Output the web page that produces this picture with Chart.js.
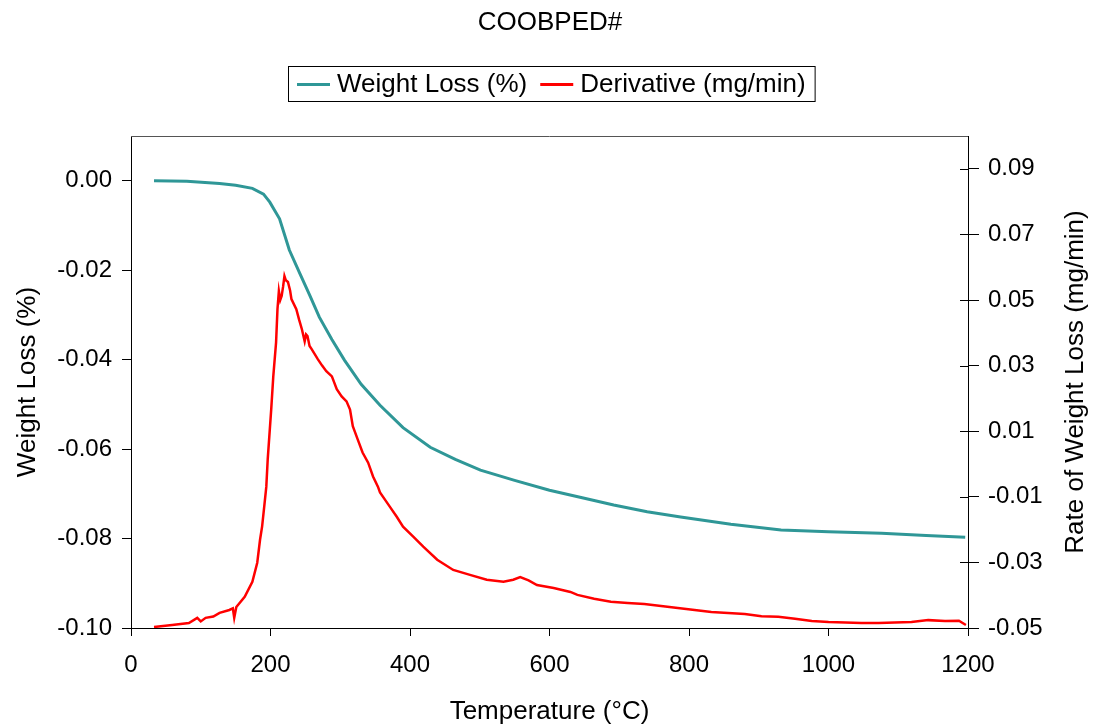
<!DOCTYPE html>
<html>
<head>
<meta charset="utf-8">
<title>COOBPED#</title>
<script src="https://cdn.jsdelivr.net/npm/chart.js@4/dist/chart.umd.min.js"></script>
<style>
  html, body { margin: 0; padding: 0; background: #fff; }
  canvas { display: block; }
</style>
</head>
<body>
<canvas id="chart" width="1096" height="727"></canvas>
<script>
// weight loss curve (left axis)
const tempWL = [33, 80, 127, 150, 174, 190, 199, 213, 227, 242, 256, 270, 288, 306, 330, 357, 390, 429, 465, 501, 550, 600, 650, 692, 740, 788, 860, 932, 1000, 1076, 1140, 1196];
const weightLoss = [0.0000, -0.0001, -0.0006, -0.0010, -0.0017, -0.0030, -0.0048, -0.0085, -0.0155, -0.0207, -0.0255, -0.0305, -0.0355, -0.0401, -0.0455, -0.0502, -0.0552, -0.0596, -0.0623, -0.0647, -0.0670, -0.0692, -0.0710, -0.0725, -0.0740, -0.0752, -0.0768, -0.0781, -0.0785, -0.0788, -0.0793, -0.0797];

// derivative curve (right axis)
const tempDer = [33, 59, 83, 95, 100, 107, 118, 127, 141, 146, 148, 151, 163, 174, 181, 185, 188, 191, 194, 196, 201, 204, 208, 210, 212, 214, 216, 218, 220, 222, 225, 228, 230, 237, 241, 245, 249, 251, 253, 256, 259, 268, 274, 280, 288, 295, 302, 309, 314, 318, 325, 332, 340, 347, 354, 357, 371, 381, 390, 405, 419, 439, 462, 486, 510, 534, 548, 558, 570, 582, 606, 630, 640, 664, 688, 712, 736, 760, 784, 808, 832, 856, 880, 904, 928, 952, 976, 1000, 1024, 1047, 1072, 1095, 1119, 1143, 1167, 1187, 1197];
const derivative = [-0.0497, -0.0491, -0.0485, -0.0469, -0.0480, -0.0469, -0.0465, -0.0454, -0.0445, -0.0440, -0.0469, -0.0436, -0.0405, -0.0359, -0.0301, -0.0231, -0.0190, -0.0130, -0.0069, 0.0014, 0.0166, 0.0267, 0.0371, 0.0472, 0.0527, 0.0500, 0.0512, 0.0540, 0.0573, 0.0560, 0.0555, 0.0530, 0.0503, 0.0472, 0.0440, 0.0411, 0.0374, 0.0395, 0.0390, 0.0360, 0.0350, 0.0319, 0.0300, 0.0283, 0.0267, 0.0228, 0.0206, 0.0191, 0.0166, 0.0115, 0.0075, 0.0035, 0.0004, -0.0038, -0.0069, -0.0087, -0.0130, -0.0161, -0.0191, -0.0222, -0.0252, -0.0292, -0.0323, -0.0338, -0.0353, -0.0359, -0.0353, -0.0345, -0.0355, -0.0369, -0.0378, -0.0390, -0.0399, -0.0411, -0.0420, -0.0424, -0.0427, -0.0433, -0.0439, -0.0445, -0.0451, -0.0454, -0.0457, -0.0464, -0.0466, -0.0472, -0.0479, -0.0482, -0.0483, -0.0485, -0.0485, -0.0483, -0.0482, -0.0476, -0.0479, -0.0478, -0.0491];

const xTicks = [0, 200, 400, 600, 800, 1000, 1200];
const leftTicks = [0.00, -0.02, -0.04, -0.06, -0.08, -0.10];
const rightTicks = [0.09, 0.07, 0.05, 0.03, 0.01, -0.01, -0.03, -0.05];

const chartTitle = 'COOBPED#';
const rightTitle = 'Rate of Weight Loss (mg/min)';
const teal = '#2f9797';
const red = '#ff0000';
const FONT = "'Liberation Sans', Arial, sans-serif";

Chart.defaults.font.family = FONT;
Chart.defaults.color = '#000';

const decor = {
  id: 'decor',
  afterDraw(chart) {
    const { ctx, chartArea: a, scales } = chart;
    ctx.save();
    // top edge of plot frame
    ctx.strokeStyle = '#555';
    ctx.lineWidth = 1;
    ctx.beginPath();
    ctx.moveTo(a.left, a.top + 0.5);
    ctx.lineTo(a.right, a.top + 0.5);
    ctx.stroke();
    // right axis ticks cross into the plot
    ctx.strokeStyle = '#000';
    ctx.beginPath();
    scales.yRate.ticks.forEach((t) => {
      const y = Math.round(scales.yRate.getPixelForValue(t.value)) + 0.5;
      ctx.moveTo(a.right - 8, y);
      ctx.lineTo(a.right, y);
    });
    ctx.stroke();

    // title
    ctx.fillStyle = '#000';
    ctx.font = '26px ' + FONT;
    ctx.textAlign = 'center';
    ctx.textBaseline = 'middle';
    ctx.fillText(chartTitle, 550, 23);

    // right axis title, read bottom to top
    ctx.save();
    ctx.translate(1076, (a.top + a.bottom) / 2);
    ctx.rotate(-Math.PI / 2);
    ctx.fillText(rightTitle, 0, 0);
    ctx.restore();

    // legend box
    ctx.textAlign = 'left';
    const items = chart.data.datasets.map((d) => ({ label: d.label, color: d.borderColor }));
    const pad = 9, lineLen = 33, gap = 7, between = 13;
    let w = pad * 2;
    items.forEach((it, i) => {
      w += lineLen + gap + ctx.measureText(it.label).width + (i ? between : 0);
    });
    const bx = Math.round(551 - w / 2), by = 66, bh = 35;
    ctx.strokeStyle = '#000';
    ctx.lineWidth = 1;
    ctx.strokeRect(bx + 0.5, by + 0.5, w, bh);
    let x = bx + pad;
    const cy = by + bh / 2 + 1;
    items.forEach((it, i) => {
      if (i) x += between;
      ctx.strokeStyle = it.color;
      ctx.lineWidth = 3;
      ctx.beginPath();
      ctx.moveTo(x, cy);
      ctx.lineTo(x + lineLen, cy);
      ctx.stroke();
      x += lineLen + gap;
      ctx.fillText(it.label, x, cy);
      x += ctx.measureText(it.label).width;
    });
    ctx.restore();
  }
};

const tickFont = { size: 24 };
const titleFont = { size: 26 };

new Chart(document.getElementById('chart'), {
  type: 'line',
  data: {
    datasets: [
      {
        label: 'Weight Loss (%)',
        data: tempWL.map((t, i) => ({ x: t, y: weightLoss[i] })),
        borderColor: teal,
        borderWidth: 3,
        pointRadius: 0,
        yAxisID: 'yWL'
      },
      {
        label: 'Derivative (mg/min)',
        data: tempDer.map((t, i) => ({ x: t, y: derivative[i] })),
        borderColor: red,
        borderWidth: 2.5,
        pointRadius: 0,
        yAxisID: 'yRate'
      }
    ]
  },
  options: {
    responsive: false,
    animation: false,
    events: [],
    layout: { padding: { top: 136, left: 0, right: 0, bottom: 0 } },
    plugins: {
      legend: { display: false },
      title: { display: false },
      tooltip: { enabled: false }
    },
    scales: {
      x: {
        type: 'linear',
        min: 0,
        max: 1200,
        afterBuildTicks: (s) => { s.ticks = xTicks.map((v) => ({ value: v })); },
        afterFit: (s) => { s.height = 99; },
        ticks: { font: tickFont, color: '#000', padding: 15, maxRotation: 0, callback: (v) => String(v) },
        grid: { drawOnChartArea: false, tickLength: 8, color: '#000' },
        border: { color: '#000', width: 1 },
        title: { display: true, text: 'Temperature (°C)', font: titleFont, color: '#000', padding: { top: 0, bottom: 0 } }
      },
      yWL: {
        position: 'left',
        min: -0.10,
        max: 0.01,
        afterBuildTicks: (s) => { s.ticks = leftTicks.map((v) => ({ value: v })); },
        afterFit: (s) => { s.width = 131; },
        ticks: { font: tickFont, color: '#000', padding: 10, callback: (v) => v.toFixed(2) },
        grid: { drawOnChartArea: false, tickLength: 9, color: '#000' },
        border: { color: '#000', width: 1 },
        title: { display: true, text: 'Weight Loss (%)', font: titleFont, color: '#000', padding: { top: 12, bottom: 0 } }
      },
      yRate: {
        position: 'right',
        min: -0.05,
        max: 0.10,
        afterBuildTicks: (s) => { s.ticks = rightTicks.map((v) => ({ value: v })); },
        afterFit: (s) => { s.width = 128; },
        ticks: { font: tickFont, color: '#000', padding: 9, callback: (v) => v.toFixed(2) },
        grid: { drawOnChartArea: false, tickLength: 11, color: '#000' },
        border: { color: '#000', width: 1 },
        title: { display: false }
      }
    }
  },
  plugins: [decor]
});
</script>
</body>
</html>
